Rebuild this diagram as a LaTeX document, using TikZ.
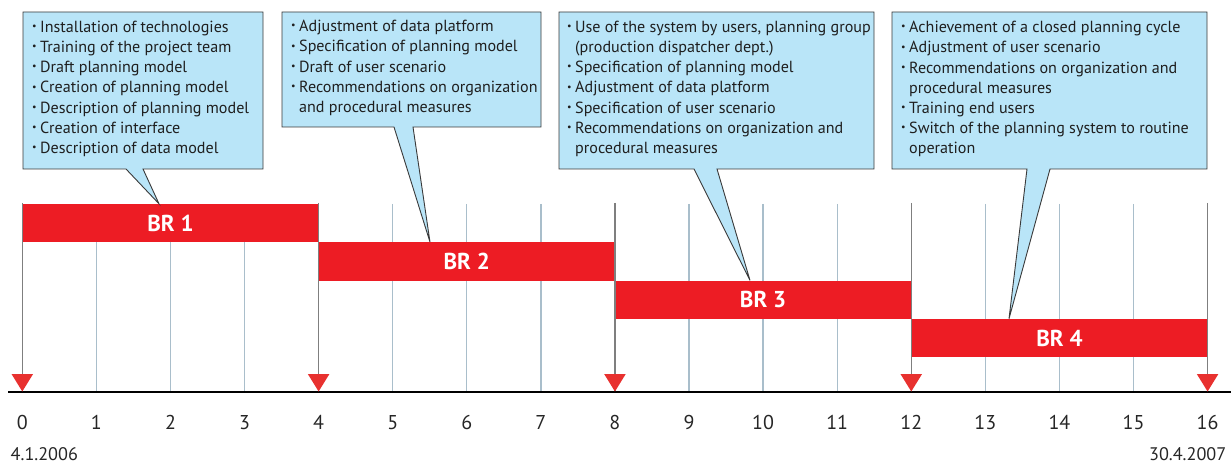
\documentclass[tikz,border=0pt]{standalone}
\usepackage{fontspec}
\setmainfont{PT Sans}
\usetikzlibrary{calc}

\definecolor{barred}{HTML}{ED1C24}
\definecolor{markred}{HTML}{E8312F}
\definecolor{calloutfill}{HTML}{B9E5F8}
\definecolor{calloutline}{HTML}{3A3A3A}
\definecolor{gridlight}{HTML}{A9BECB}
\definecolor{griddark}{HTML}{7F7F7F}

% bullet list set inside a top-aligned minipage, hanging indent for wrapped lines
\newcommand{\bulletmark}{\makebox[8.5pt][l]{\hspace{0.3pt}\raisebox{0.35ex}{\scalebox{0.62}{\textbullet}}}}
\newcommand{\itm}[1]{\hangindent=8.5pt\hangafter=1\noindent\bulletmark#1\par}
\newenvironment{calloutlist}{\begin{minipage}[t]{330pt}\fontsize{16.1}{20.2}\selectfont\parskip=0pt}{\end{minipage}}

\tikzset{
  bar/.style={fill=barred, inner sep=0pt, minimum height=38.3pt, text=white,
    font=\fontsize{23}{26}\selectfont\bfseries},
  callout/.style={fill=calloutfill, draw=calloutline, line width=0.9pt, line join=miter},
  listtext/.style={anchor=base west, inner sep=0pt, text=black!88},
  ticknum/.style={anchor=base, inner sep=0pt, font=\fontsize{20}{22}\selectfont, text=black!85},
  datetext/.style={inner sep=0pt, font=\fontsize{18.2}{20}\selectfont, text=black!85},
  lightline/.style={draw=gridlight, line width=1.3pt},
  darkline/.style={draw=griddark, line width=1.3pt},
  milestone/.style={fill=markred, draw=none},
}

\begin{document}
\begin{tikzpicture}[x=1pt, y=-1pt]
\useasboundingbox (0,0) rectangle (1231,465);

% time grid (light lines between the milestones)
\foreach \i in {1,2,3,5,6,7,9,10,11,13,14,15}{
  \pgfmathsetmacro{\xx}{22.3+74.08*\i}
  \draw[lightline] (\xx,204) -- (\xx,392);
}

% phase bars
\node[bar, minimum width=296.3pt] (br1) at (170.5,223.15) {BR 1};
\node[bar, minimum width=296.3pt] (br2) at (466.8,261.45) {BR 2};
\node[bar, minimum width=296.3pt] (br3) at (763.1,299.75) {BR 3};
\node[bar, minimum width=296.3pt] (br4) at (1059.4,338.05) {BR 4};

% milestone lines
\foreach \i in {0,4,8,12,16}{
  \pgfmathsetmacro{\xx}{22.3+74.08*\i}
  \draw[darkline] (\xx,203) -- (\xx,392);
}

% time axis
\coordinate (axL) at (8,392);
\coordinate (axR) at (1231,392);
\draw[line width=2pt, black] (axL) -- (axR);

% milestone markers and tick numbers
\foreach \i in {0,...,16}{
  \pgfmathsetmacro{\xx}{22.3+74.08*\i}
  \node[ticknum] (t\i) at (\xx,429) {\i};
}
\foreach \i in {0,4,8,12,16}{
  \pgfmathsetmacro{\xx}{22.3+74.08*\i}
  \fill[milestone] (\xx-10.8,374) -- (\xx+10.8,374) -- (\xx,391.5) -- cycle;
}

\node[datetext, anchor=base west] (start) at (10.5,460) {4.1.2006};
\node[datetext, anchor=base east] (end) at (1226.5,460) {30.4.2007};

% callouts
\coordinate (p1) at (159,0 |- br1.north);
\coordinate (p2) at (430,0 |- br2.north);
\coordinate (p3) at (750,0 |- br3.north);
\coordinate (p4) at (1009,0 |- br4.north);

\draw[callout] (23,12) -- (263,12) -- (263,169) -- (143,169) -- (p1) -- (126,169) -- (23,169) -- cycle;
\draw[callout] (282,12) -- (541,12) -- (541,127) -- (413,127) -- (p2) -- (394,127) -- (282,127) -- cycle;
\draw[callout] (559,12) -- (874,12) -- (874,169) -- (717,169) -- (p3) -- (694,169) -- (559,169) -- cycle;
\draw[callout] (892,12) -- (1207,12) -- (1207,169) -- (1050,169) -- (p4) -- (1027,169) -- (892,169) -- cycle;

\node[listtext] (c1) at (31.5,32.3) {\begin{calloutlist}
\itm{Installation of technologies}
\itm{Training of the project team}
\itm{Draft planning model}
\itm{Creation of planning model}
\itm{Description of planning model}
\itm{Creation of interface}
\itm{Description of data model}
\end{calloutlist}};

\node[listtext] (c2) at (290.5,31.8) {\begin{calloutlist}
\itm{Adjustment of data platform}
\itm{Specification of planning model}
\itm{Draft of user scenario}
\itm{Recommendations on organization\\and procedural measures}
\end{calloutlist}};

\node[listtext] (c3) at (566.5,32.3) {\begin{calloutlist}
\itm{Use of the system by users, planning group\\(production dispatcher dept.)}
\itm{Specification of planning model}
\itm{Adjustment of data platform}
\itm{Specification of user scenario}
\itm{Recommendations on organization and\\procedural measures}
\end{calloutlist}};

\node[listtext] (c4) at (900.5,32.8) {\begin{calloutlist}
\itm{Achievement of a closed planning cycle}
\itm{Adjustment of user scenario}
\itm{Recommendations on organization and\\procedural measures}
\itm{Training end users}
\itm{Switch of the planning system to routine\\operation}
\end{calloutlist}};
\end{tikzpicture}
\end{document}
